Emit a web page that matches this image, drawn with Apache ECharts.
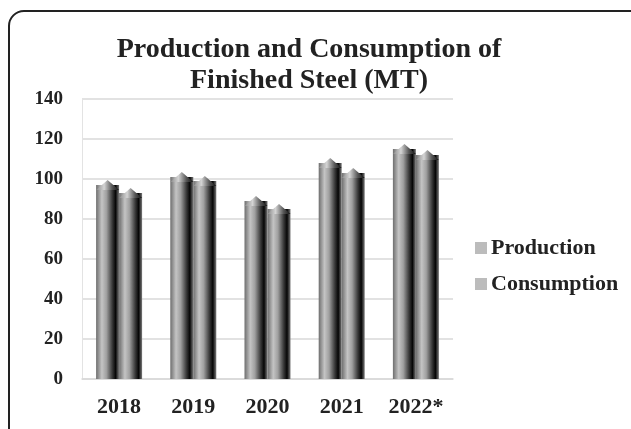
<!DOCTYPE html>
<html>
<head>
<meta charset="utf-8">
<title>Finished Steel</title>
<script src="https://cdn.jsdelivr.net/npm/echarts@6/dist/echarts.min.js"></script>
<style>
  html, body { margin: 0; padding: 0; background: #fff; }
  #frame { position: absolute; left: 8px; top: 10px; width: 640px; height: 440px;
           border: 2px solid #222; border-radius: 16px; box-sizing: border-box; }
  #chart { position: absolute; left: 0; top: 0; width: 631px; height: 429px; }
</style>
</head>
<body>
<div id="frame"></div>
<div id="chart"></div>
<script>
var years = ['2018', '2019', '2020', '2021', '2022*'];
var production = [97, 101, 89, 108, 115];
var consumption = [93, 99, 85, 103, 112];
var yTicks = [0, 20, 40, 60, 80, 100, 120, 140];

var font = '"Liberation Serif", "DejaVu Serif", serif';

// cylinder shading, left to right
function shade() {
  return {
    type: 'linear', x: 0, y: 0, x2: 1, y2: 0,
    colorStops: [
      { offset: 0, color: '#6e6e6e' },
      { offset: 0.25, color: '#c4c4c4' },
      { offset: 0.45, color: '#a0a0a0' },
      { offset: 0.7, color: '#3a3a3a' },
      { offset: 0.85, color: '#050505' },
      { offset: 1, color: '#7a7a7a' }
    ]
  };
}
function capShade() {
  return {
    type: 'linear', x: 0, y: 0, x2: 1, y2: 0,
    colorStops: [
      { offset: 0, color: '#8a8a8a' },
      { offset: 0.35, color: '#d4d4d4' },
      { offset: 0.7, color: '#555' },
      { offset: 1, color: '#111' }
    ]
  };
}

var chart = echarts.init(document.getElementById('chart'));

var option = {
  animation: false,
  title: {
    text: 'Production and Consumption of\nFinished Steel (MT)',
    left: 304,
    textAlign: 'center',
    top: 29,
    textStyle: { fontFamily: font, fontSize: 28, fontWeight: 'bold', color: '#222', lineHeight: 31 }
  },
  legend: {
    orient: 'vertical',
    left: 470,
    top: 232,
    itemGap: 14,
    itemWidth: 12,
    itemHeight: 12,
    icon: 'rect',
    textStyle: { fontFamily: font, fontSize: 22, fontWeight: 'bold', color: '#222', padding: [0, 0, 0, -1] },
    data: [
      { name: 'Production', itemStyle: { color: '#bcbcbc' } },
      { name: 'Consumption', itemStyle: { color: '#bcbcbc' } }
    ]
  },
  grid: { left: 82, right: 178, top: 99, bottom: 50 },
  xAxis: {
    type: 'category',
    data: years,
    axisLine: { lineStyle: { color: '#d9d9d9', width: 1.5 } },
    axisTick: { show: false },
    axisLabel: { fontFamily: font, fontSize: 22, fontWeight: 'bold', color: '#222', margin: 17 }
  },
  yAxis: {
    type: 'value',
    min: yTicks[0],
    max: yTicks[yTicks.length - 1],
    interval: 20,
    axisLine: { show: true, lineStyle: { color: '#e3e3e3' } },
    axisTick: { show: false },
    splitLine: { lineStyle: { color: '#d9d9d9', width: 1.5 } },
    axisLabel: { fontFamily: font, fontSize: 19, fontWeight: 'bold', color: '#222', margin: 19 }
  },
  series: [
    {
      name: 'Production', type: 'bar', data: production,
      barWidth: 23, barGap: '0%', itemStyle: { color: shade() }
    },
    {
      name: 'Consumption', type: 'bar', data: consumption,
      barWidth: 23, barGap: '0%', itemStyle: { color: shade() }
    },
    {
      name: 'Production', type: 'pictorialBar', data: production,
      barWidth: 23, barGap: '0%',
      symbol: 'triangle', symbolSize: [23, 10], symbolPosition: 'end', symbolOffset: [0, '-50%'],
      itemStyle: { color: capShade() }, z: 3
    },
    {
      name: 'Consumption', type: 'pictorialBar', data: consumption,
      barWidth: 23, barGap: '0%',
      symbol: 'triangle', symbolSize: [23, 10], symbolPosition: 'end', symbolOffset: [0, '-50%'],
      itemStyle: { color: capShade() }, z: 3
    }
  ]
};

chart.setOption(option);
</script>
</body>
</html>
